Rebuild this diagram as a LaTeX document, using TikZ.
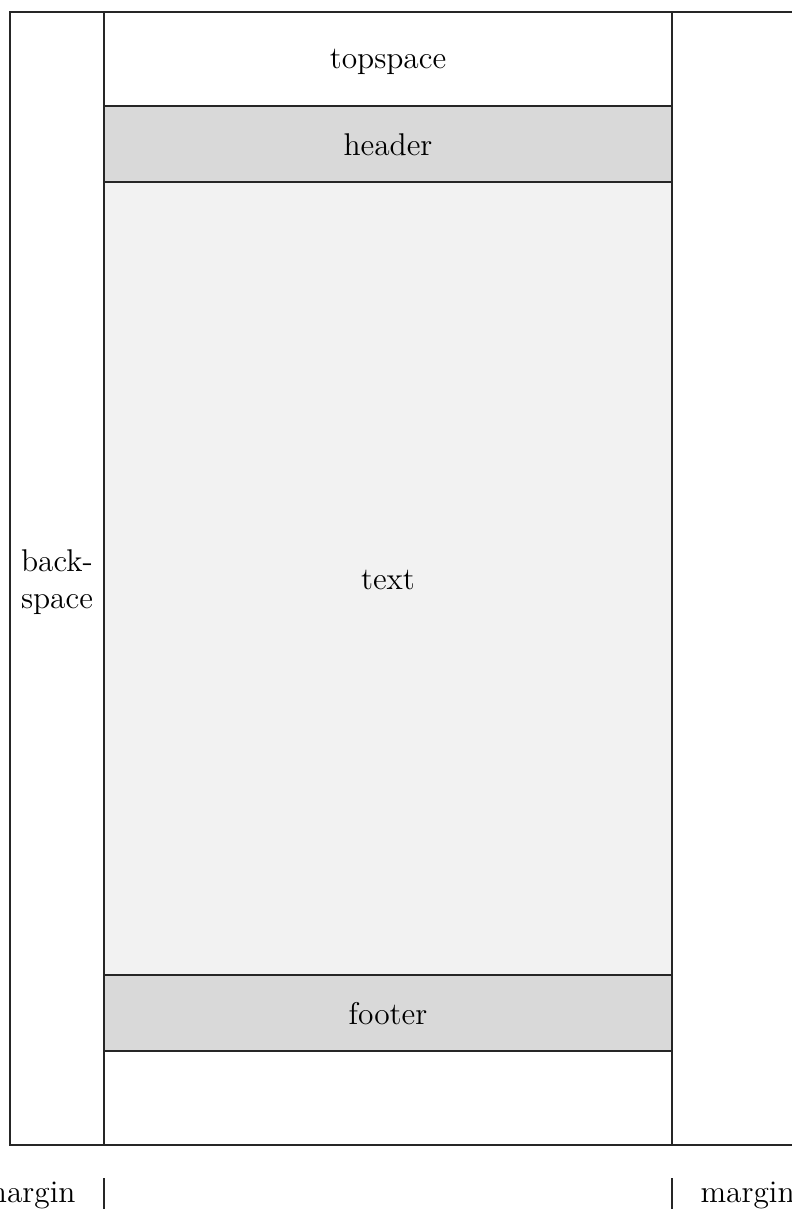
\documentclass[tikz,border=0pt]{standalone}
\begin{document}
\begin{tikzpicture}[x=0.35pt,y=-0.35pt,
  ln/.style={draw=black!85,line width=0.6pt},
  band/.style={ln,fill=black!15},
  body/.style={ln,fill=black!5},
  lbl/.style={font=\fontsize{11}{13.2}\selectfont,inner sep=0pt}]
\useasboundingbox (0,0) rectangle (792,1209);
\clip (0,0) rectangle (792,1209);
% outer page
\draw[ln] (10,12) rectangle (900,1145);
% regions
\draw[ln] (104,12) rectangle (672,106);
\draw[band] (104,106) rectangle (672,182);
\draw[body] (104,182) rectangle (672,975);
\draw[band] (104,975) rectangle (672,1051);
\draw[ln] (104,1051) rectangle (672,1145);
\draw[ln] (104,12) -- (104,1145);
\draw[ln] (672,12) -- (672,1145);
% labels
\node[lbl] (top) at (388,62) {topspace};
\node[lbl] (head) at (388,145) {header};
\node[lbl] (txt) at (388,580) {text};
\node[lbl] (foot) at (388,1014) {footer};
\node[lbl,align=center] (back) at (57,582) {back-\\space};
% margin marks
\coordinate (t1a) at (104,1178);
\coordinate (t1b) at (104,1215);
\coordinate (t2a) at (672,1178);
\coordinate (t2b) at (672,1215);
\draw[ln] (t1a) -- (t1b);
\draw[ln] (t2a) -- (t2b);
\node[lbl,anchor=base east] (ml) at (76,1202) {margin};
\node[lbl,anchor=base west] (mr) at (700,1202) {margin};
\end{tikzpicture}
\end{document}
